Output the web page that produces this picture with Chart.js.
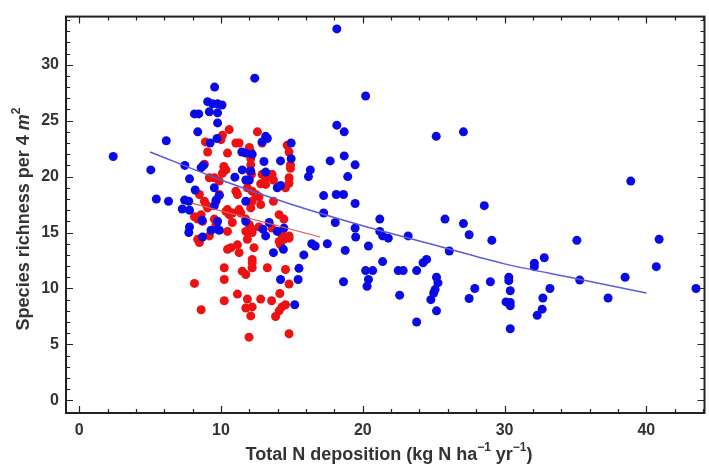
<!DOCTYPE html>
<html>
<head>
<meta charset="utf-8">
<script src="https://cdn.jsdelivr.net/npm/chart.js@4/dist/chart.umd.min.js"></script>
<style>
  html, body { margin: 0; padding: 0; background: #fff; }
  #wrap { width: 709px; height: 465px; }
</style>
</head>
<body>
<div id="wrap"><canvas id="chart"></canvas></div>
<script>
// sites, blue group
const blueX = [2.4, 5.05, 6.14, 5.44, 6.3, 7.45, 7.27, 7.43, 7.73, 7.78, 7.78, 8.18, 8.13, 8.43, 8.36, 8.6, 8.76, 8.67,
  9.55, 9.06, 9.41, 9.76, 10.07, 9.18, 9.76, 9.76, 9.72, 9.23, 9.53, 9.65, 9.53, 9.76, 9.88, 10.98, 11.5, 11.47,
  11.75, 12.2, 12.38, 11.75, 12.0, 11.75, 13.03, 13.15, 13.27, 12.9, 13.15, 13.97, 14.2, 14.2, 14.95, 14.95,
  16.17, 16.3, 17.24, 17.24, 18.06, 18.13, 18.64, 18.17, 18.17, 18.69, 17.7, 18.69, 18.94, 19.46, 19.46, 19.46,
  20.2, 25.18, 27.1, 38.9, 28.57, 21.2, 21.2, 21.4, 21.8, 23.2, 25.8, 27.1, 27.5, 29.1, 35.1, 40.9, 19.5, 20.4,
  26.1, 32.1, 32.1, 32.8, 35.3, 40.7, 38.5, 37.3, 43.5, 21.4, 20.2, 20.7, 20.4, 20.3, 22.5, 22.85, 23.8, 24.25,
  24.5, 22.6, 25.2, 25.3, 25.1, 25.0, 24.8, 25.2, 23.8, 27.5, 27.9, 29.0, 30.3, 30.3, 30.4, 30.1, 30.4, 30.4,
  30.4, 32.3, 32.65, 32.7, 33.2, 17.5, 16.4, 16.65, 15.84, 15.5, 15.44, 15.2, 18.76, 18.64, 12.1, 9.88, 7.78,
  7.73, 9.3, 8.7, 11.75, 13.4, 12.96, 13.15, 13.97, 14.44, 13.7, 14.4, 14.2, 9.76];
const blueY = [21.8, 20.6, 23.2, 18.0, 17.8, 21.0, 17.1, 17.9, 17.8, 17.0, 19.8, 18.8, 25.6, 25.6, 24.0, 20.8, 21.0, 16.1,
  28.0, 26.7, 26.5, 26.5, 26.4, 25.8, 25.7, 24.8, 23.4, 23.0, 19.0, 17.9, 17.4, 16.0, 15.2, 19.95, 20.6, 22.2,
  22.1, 22.0, 28.8, 19.7, 19.7, 17.8, 21.35, 23.6, 23.4, 23.1, 20.4, 19.0, 19.2, 21.4, 23.0, 21.6,
  20.0, 20.6, 18.3, 16.75, 15.9, 18.4, 18.4, 33.2, 24.6, 24.0, 21.4, 21.85, 20.0, 21.05, 17.6, 15.4,
  27.2, 23.6, 24.0, 19.6, 17.4, 16.2, 15.1, 14.7, 14.5, 14.7, 16.2, 15.8, 14.8, 14.3, 14.3, 14.4, 14.6, 13.8,
  13.35, 12.25, 11.95, 12.75, 10.75, 11.95, 11.0, 9.15, 10.0, 12.4, 11.6, 11.6, 10.8, 10.2, 11.6, 11.6, 11.6, 12.3,
  12.6, 9.4, 11.0, 10.5, 9.9, 9.6, 9.0, 8.0, 7.0, 9.1, 10.0, 10.6, 11.0, 10.7, 9.8, 8.8, 8.75, 8.45,
  6.4, 7.6, 8.15, 9.15, 10.0, 14.0, 14.0, 13.8, 13.0, 11.8, 10.8, 8.55, 13.4, 10.6, 20.5, 18.3, 15.5,
  15.0, 15.2, 14.6, 16.0, 15.9, 15.3, 14.7, 15.1, 15.4, 13.2, 13.5, 10.8, 15.3];

// sites, red group
const redX = [10.58, 10.1, 10.0, 8.9, 9.06, 11.05, 11.28, 10.46, 12.57, 12.9, 12.0, 12.1, 14.67, 14.8, 8.83, 10.2,
  10.35, 10.1, 9.18, 9.53, 9.88, 12.1, 12.1, 12.03, 12.15, 12.9, 13.15, 13.6, 13.7, 13.15, 12.8, 14.9, 14.9,
  14.8, 14.8, 14.55, 8.48, 8.83, 8.95, 9.06, 9.88, 9.65, 11.05, 11.16, 11.86, 12.2, 12.45, 12.68, 12.2, 12.1,
  12.8, 13.7, 10.46, 10.58, 11.28, 11.4, 8.6, 8.7, 9.53, 9.65, 10.8, 11.75, 12.0, 14.1, 14.44, 10.46, 11.75,
  12.2, 13.6, 14.3, 14.8, 8.36, 8.48, 9.18, 11.86, 10.46, 10.7, 11.16, 11.28, 12.33, 12.2, 12.2, 12.2, 14.1,
  14.2, 14.44, 14.8, 10.23, 10.23, 8.13, 11.5, 11.75, 13.27, 14.55, 14.8, 8.6, 10.23, 11.16, 11.86, 11.75,
  12.2, 12.1, 12.8, 13.57, 14.15, 13.85, 14.1, 14.3, 14.55, 11.98, 14.8, 8.36, 8.13, 10.8, 10.35, 12.2, 12.68];
const redY = [24.2, 23.7, 23.3, 23.1, 22.2, 23.0, 23.0, 22.1, 24.0, 23.0, 22.6, 22.2, 22.8, 22.2, 21.1, 20.9,
  20.6, 20.3, 19.9, 19.9, 19.6, 21.6, 21.05, 20.5, 20.2, 20.2, 19.9, 20.2, 19.7, 19.3, 19.35, 21.05, 20.75,
  19.9, 19.4, 19.0, 18.4, 17.8, 17.5, 17.2, 18.4, 17.8, 18.7, 18.4, 19.0, 18.7, 18.4, 18.2, 17.8, 17.2,
  17.5, 17.8, 17.05, 16.6, 17.05, 16.75, 16.6, 16.0, 16.2, 15.7, 15.9, 16.2, 15.7, 16.6, 16.2, 15.1, 15.1,
  15.0, 15.4, 14.8, 14.7, 14.4, 14.1, 14.7, 14.4, 13.5, 13.65, 13.9, 13.2, 13.65, 12.6, 12.3, 11.85, 14.2,
  13.9, 14.4, 14.5, 11.85, 10.8, 10.45, 11.55, 11.25, 11.85, 11.7, 10.4, 8.1, 8.9, 9.5, 9.05, 8.25,
  8.35, 7.55, 9.05, 8.9, 9.55, 7.5, 8.0, 8.35, 8.55, 5.65, 5.95, 16.2, 16.4, 16.75, 16.9, 15.3, 15.5];

// fitted curves
const blueFitX = [5, 10, 15, 20, 25, 30, 35, 40];
const blueFitY = [22.2, 19.7, 17.5, 15.6, 13.9, 12.2, 10.9, 9.6];
const redFitX = [8, 17];
const redFitY = [17.6, 14.6];

const xTicks = [0, 10, 20, 30, 40];
const yTicks = [0, 5, 10, 15, 20, 25, 30];

const pts = (xs, ys) => xs.map((x, i) => ({ x, y: ys[i] }));

const LABEL_COLOR = '#333';
const FONT = 'Liberation Sans, Arial, sans-serif';

// draws a line of text with italic / superscript pieces, centred on (0,0)
function drawRich(ctx, parts) {
  const base = `bold 18px ${FONT}`;
  const fontOf = p => p.sup ? `bold 12px ${FONT}` : (p.it ? `italic bold 18px ${FONT}` : base);
  let total = 0;
  parts.forEach(p => { ctx.font = fontOf(p); total += ctx.measureText(p.t).width; });
  let x = -total / 2;
  ctx.textBaseline = 'middle';
  ctx.textAlign = 'left';
  parts.forEach(p => {
    ctx.font = fontOf(p);
    ctx.fillText(p.t, x, p.sup ? -7 : 0);
    x += ctx.measureText(p.t).width;
  });
}

const framePlugin = {
  id: 'frame',
  afterDraw(chart) {
    const { ctx, chartArea: a, scales } = chart;
    const sx = scales.x, sy = scales.y;
    ctx.save();
    ctx.strokeStyle = '#222';
    ctx.lineWidth = 1.2;
    // ticks pointing inward on all four sides
    for (let v = 0; v <= sx.max; v += 2) {
      const px = Math.round(sx.getPixelForValue(v)) + 0.5;
      const len = v % 10 === 0 ? 7 : 4;
      ctx.beginPath();
      ctx.moveTo(px, a.bottom); ctx.lineTo(px, a.bottom - len);
      ctx.moveTo(px, a.top); ctx.lineTo(px, a.top + len);
      ctx.stroke();
    }
    for (let v = 0; v <= sy.max; v += 1) {
      const py = Math.round(sy.getPixelForValue(v)) + 0.5;
      const len = v % 5 === 0 ? 7 : 4;
      ctx.beginPath();
      ctx.moveTo(a.left, py); ctx.lineTo(a.left + len, py);
      ctx.moveTo(a.right, py); ctx.lineTo(a.right - len, py);
      ctx.stroke();
    }
    ctx.lineWidth = 2;
    ctx.strokeRect(a.left, a.top, a.right - a.left, a.bottom - a.top);

    // axis titles
    ctx.fillStyle = LABEL_COLOR;
    ctx.save();
    ctx.translate(389, 455);
    drawRich(ctx, [
      { t: 'Total N deposition (kg N ha' }, { t: '\u22121', sup: true },
      { t: ' yr' }, { t: '\u22121', sup: true }, { t: ')' }
    ]);
    ctx.restore();
    ctx.save();
    ctx.translate(24, 219);
    ctx.rotate(-Math.PI / 2);
    drawRich(ctx, [
      { t: 'Species richness per 4 ' }, { t: 'm', it: true }, { t: '2', sup: true }
    ]);
    ctx.restore();
    ctx.restore();
  }
};

const tickFont = { family: FONT, size: 16, weight: 'bold' };

new Chart(document.getElementById('chart'), {
  type: 'scatter',
  data: {
    datasets: [
      {
        label: 'blue fit', data: pts(blueFitX, blueFitY), showLine: true,
        borderColor: '#5b5bdc', borderWidth: 1.5, pointRadius: 0,
        cubicInterpolationMode: 'monotone', order: 0
      },
      {
        label: 'red fit', data: pts(redFitX, redFitY), showLine: true,
        borderColor: '#e25a5a', borderWidth: 1.2, pointRadius: 0, order: 0
      },
      {
        label: 'blue', data: pts(blueX, blueY),
        backgroundColor: '#0a0ae6', borderColor: '#0a0ae6', borderWidth: 0,
        pointRadius: 4.5, order: 1
      },
      {
        label: 'red', data: pts(redX, redY),
        backgroundColor: '#ee1111', borderColor: '#ee1111', borderWidth: 0,
        pointRadius: 4.5, order: 2
      }
    ]
  },
  options: {
    responsive: true,
    maintainAspectRatio: false,
    animation: false,
    layout: { padding: { top: 14, right: 1, left: 0, bottom: 0 } },
    plugins: { legend: { display: false }, tooltip: { enabled: false } },
    scales: {
      x: {
        type: 'linear', min: -0.93, max: 44.1,
        afterBuildTicks: s => { s.ticks = xTicks.map(v => ({ value: v })); },
        afterFit: s => { s.height = 52; },
        grid: { display: false, drawTicks: false },
        border: { display: false },
        ticks: { font: tickFont, color: LABEL_COLOR, padding: 8, maxRotation: 0 }
      },
      y: {
        type: 'linear', min: -1.13, max: 34.3,
        afterBuildTicks: s => { s.ticks = yTicks.map(v => ({ value: v })); },
        afterFit: s => { s.width = 66; },
        grid: { display: false, drawTicks: false },
        border: { display: false },
        ticks: { font: tickFont, color: LABEL_COLOR, padding: 7 }
      }
    }
  },
  plugins: [framePlugin]
});
</script>
</body>
</html>
